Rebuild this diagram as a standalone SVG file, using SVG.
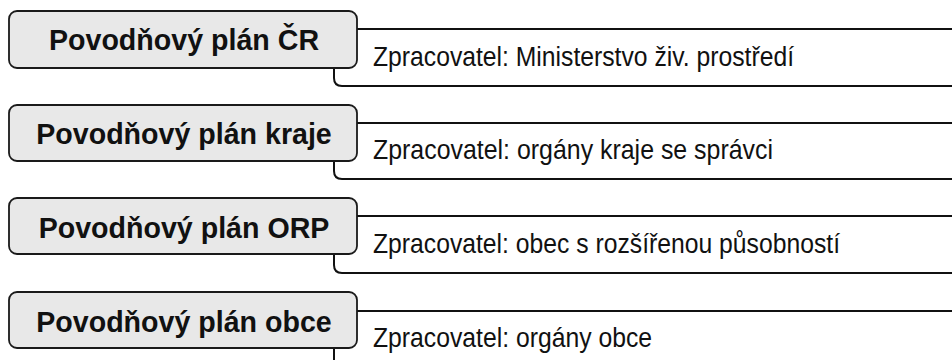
<svg xmlns="http://www.w3.org/2000/svg" width="952" height="360" viewBox="0 0 952 360">
<defs>
<style>
.tab{fill:#ffffff;stroke:#111;stroke-width:2}
.box{fill:#e8e8e8;stroke:#1a1a1a;stroke-width:1.8}
.t{font-family:"Liberation Sans",Arial,sans-serif;font-weight:bold;font-size:28.6px;fill:#111;text-anchor:middle}
.d{font-family:"Liberation Sans",Arial,sans-serif;font-size:27.5px;fill:#111}
</style>
</defs>
<g id="connectors"></g>
<g id="row1">
<path class="tab" d="M960,29 H342 Q334,29 334,37 V78 Q334,86 342,86 H960"/>
<rect class="box" x="9" y="11" width="348" height="57" rx="8"/>
<text class="t" x="184" y="50">Povodňový plán ČR</text>
<text class="d" x="373" y="65.5" textLength="421" lengthAdjust="spacingAndGlyphs">Zpracovatel: Ministerstvo živ. prostředí</text>
</g>
<g id="row2">
<path class="tab" d="M960,123 H342 Q334,123 334,131 V171 Q334,179 342,179 H960"/>
<rect class="box" x="9" y="105" width="348" height="56" rx="8"/>
<text class="t" x="184" y="144">Povodňový plán kraje</text>
<text class="d" x="373" y="159" textLength="400" lengthAdjust="spacingAndGlyphs">Zpracovatel: orgány kraje se správci</text>
</g>
<g id="row3">
<path class="tab" d="M960,216 H342 Q334,216 334,224 V265 Q334,273 342,273 H960"/>
<rect class="box" x="9" y="198" width="348" height="56" rx="8"/>
<text class="t" x="184" y="237.5">Povodňový plán ORP</text>
<text class="d" x="373" y="252.5" textLength="467" lengthAdjust="spacingAndGlyphs">Zpracovatel: obec s rozšířenou působností</text>
</g>
<g id="row4">
<path class="tab" d="M960,311 H342 Q334,311 334,319 V370"/>
<rect class="box" x="9" y="292" width="348" height="56" rx="8"/>
<text class="t" x="184" y="331.5">Povodňový plán obce</text>
<text class="d" x="373" y="346.5" textLength="279" lengthAdjust="spacingAndGlyphs">Zpracovatel: orgány obce</text>
</g>
</svg>
